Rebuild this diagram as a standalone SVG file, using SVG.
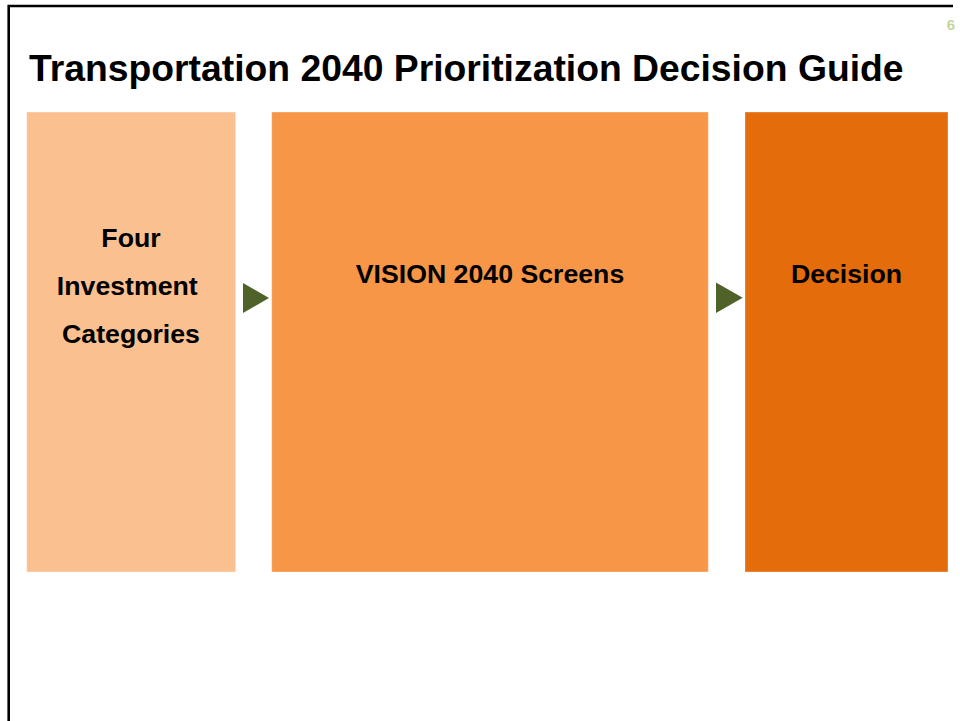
<svg xmlns="http://www.w3.org/2000/svg" width="960" height="721" viewBox="0 0 960 721">
<style>
text{font-family:"Liberation Sans",Arial,sans-serif;font-weight:bold;fill:#000}
.title{font-size:37.3px}
.lbl{font-size:26.7px;text-anchor:middle}
.box{stroke:#ffffff;stroke-opacity:0.35;stroke-width:1}
.arr{fill:#4F6228}
</style>
<rect width="960" height="721" fill="#ffffff"/>
<path d="M8.7,721 V6 H953" fill="none" stroke="#000" stroke-width="2.6"/>
<text x="955" y="29.5" style="font-size:15px;fill:#C3D69B;text-anchor:end">6</text>
<text class="title" x="29" y="81">Transportation 2040 Prioritization Decision Guide</text>
<g id="node-categories">
<rect class="box" x="26.7" y="112" width="209" height="460" fill="#FAC090"/>
<text class="lbl" x="131" y="247">Four</text>
<text class="lbl" x="131" y="295" xml:space="preserve">Investment </text>
<text class="lbl" x="131" y="343">Categories</text>
</g>
<g id="node-screens">
<rect class="box" x="271.7" y="112" width="436.6" height="460" fill="#F79646"/>
<text class="lbl" x="490" y="282.5">VISION 2040 Screens</text>
</g>
<g id="node-decision">
<rect class="box" x="745" y="112" width="203" height="460" fill="#E46C0A"/>
<text class="lbl" x="846.5" y="283">Decision</text>
</g>
<g id="connectors">
<polygon class="arr" points="243,283 269,298 243,313"/>
<polygon class="arr" points="716,282.5 742.7,297.7 716,313"/>
</g>
</svg>
